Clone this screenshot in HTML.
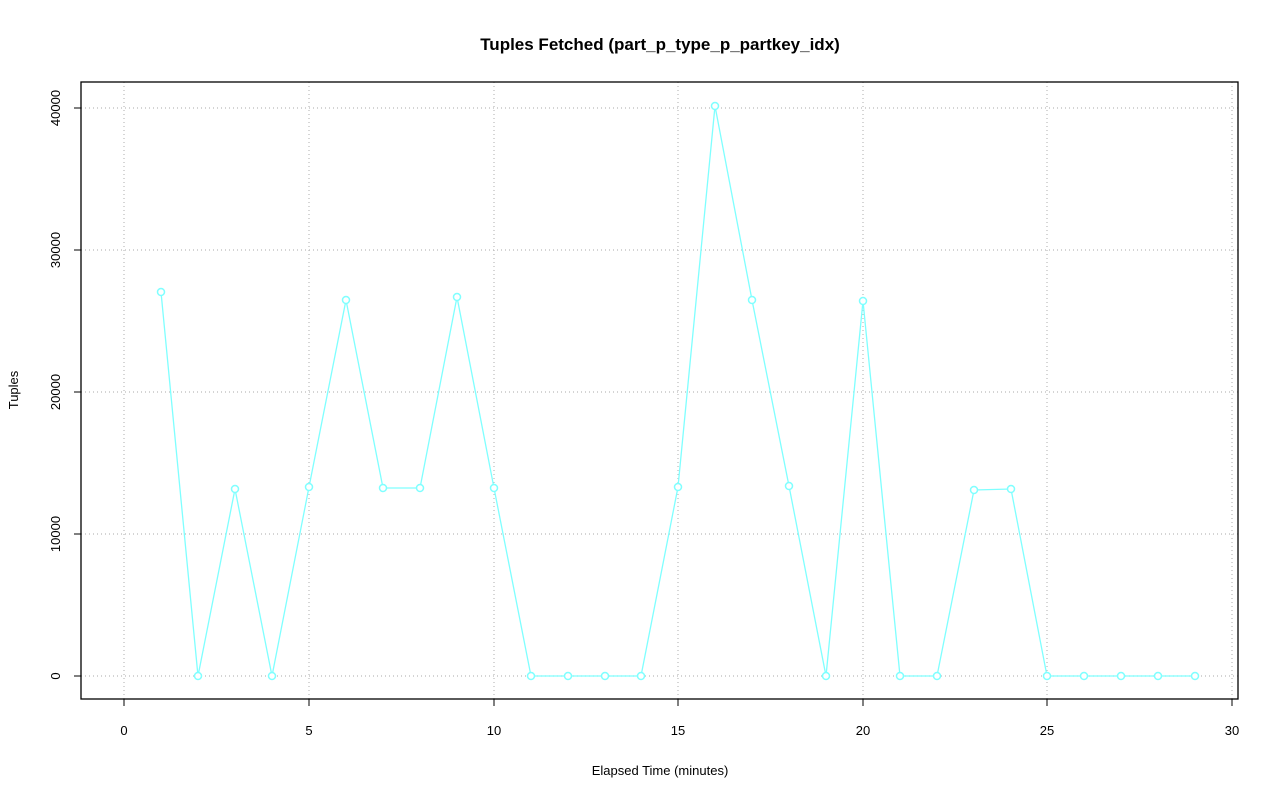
<!DOCTYPE html>
<html><head><meta charset="utf-8"><style>
html,body{margin:0;padding:0;background:#fff;}
svg{display:block;font-family:"Liberation Sans",sans-serif;}
</style></head><body>
<svg width="1280" height="801" viewBox="0 0 1280 801" xmlns="http://www.w3.org/2000/svg">
<rect width="1280" height="801" fill="#fff"/>
<text x="660" y="50" text-anchor="middle" font-size="17" font-weight="bold">Tuples Fetched (part_p_type_p_partkey_idx)</text>
<g stroke="#bbbbbb" stroke-dasharray="1,3" stroke-width="1.2">
<line x1="124" y1="82" x2="124" y2="699"/><line x1="309" y1="82" x2="309" y2="699"/>
<line x1="494" y1="82" x2="494" y2="699"/><line x1="678" y1="82" x2="678" y2="699"/>
<line x1="863" y1="82" x2="863" y2="699"/><line x1="1047" y1="82" x2="1047" y2="699"/>
<line x1="1232" y1="82" x2="1232" y2="699"/>
<line x1="81" y1="676" x2="1238" y2="676"/><line x1="81" y1="534" x2="1238" y2="534"/>
<line x1="81" y1="392" x2="1238" y2="392"/><line x1="81" y1="250" x2="1238" y2="250"/>
<line x1="81" y1="108" x2="1238" y2="108"/>
</g>
<rect x="81" y="82" width="1157" height="617" fill="none" stroke="#000" stroke-width="1.3"/>
<g stroke="#000" stroke-width="1">
<line x1="124" y1="699" x2="1232" y2="699"/>
<line x1="124" y1="699" x2="124" y2="706"/><line x1="309" y1="699" x2="309" y2="706"/>
<line x1="494" y1="699" x2="494" y2="706"/><line x1="678" y1="699" x2="678" y2="706"/>
<line x1="863" y1="699" x2="863" y2="706"/><line x1="1047" y1="699" x2="1047" y2="706"/>
<line x1="1232" y1="699" x2="1232" y2="706"/>
<line x1="81" y1="108" x2="81" y2="676"/>
<line x1="74" y1="676" x2="81" y2="676"/><line x1="74" y1="534" x2="81" y2="534"/>
<line x1="74" y1="392" x2="81" y2="392"/><line x1="74" y1="250" x2="81" y2="250"/>
<line x1="74" y1="108" x2="81" y2="108"/>
</g>
<g font-size="13" text-anchor="middle">
<text x="124" y="735">0</text><text x="309" y="735">5</text><text x="494" y="735">10</text>
<text x="678" y="735">15</text><text x="863" y="735">20</text><text x="1047" y="735">25</text>
<text x="1232" y="735">30</text>
<text transform="translate(60,676) rotate(-90)">0</text>
<text transform="translate(60,534) rotate(-90)">10000</text>
<text transform="translate(60,392) rotate(-90)">20000</text>
<text transform="translate(60,250) rotate(-90)">30000</text>
<text transform="translate(60,108) rotate(-90)">40000</text>
<text x="660" y="775">Elapsed Time (minutes)</text>
<text transform="translate(18,390) rotate(-90)">Tuples</text>
</g>
<polyline fill="none" stroke="#7fffff" stroke-width="1.3" points="161,292 198,676 235,489 272,676 309,487 346,300 383,488 420,488 457,297 494,488 531,676 568,676 605,676 641,676 678,487 715,106 752,300 789,486 826,676 863,301 900,676 937,676 974,490 1011,489 1047,676 1084,676 1121,676 1158,676 1195,676"/>
<g fill="#fff" stroke="#7fffff" stroke-width="1.5">
<circle cx="161" cy="292" r="3.5"/><circle cx="198" cy="676" r="3.5"/><circle cx="235" cy="489" r="3.5"/>
<circle cx="272" cy="676" r="3.5"/><circle cx="309" cy="487" r="3.5"/><circle cx="346" cy="300" r="3.5"/>
<circle cx="383" cy="488" r="3.5"/><circle cx="420" cy="488" r="3.5"/><circle cx="457" cy="297" r="3.5"/>
<circle cx="494" cy="488" r="3.5"/><circle cx="531" cy="676" r="3.5"/><circle cx="568" cy="676" r="3.5"/>
<circle cx="605" cy="676" r="3.5"/><circle cx="641" cy="676" r="3.5"/><circle cx="678" cy="487" r="3.5"/>
<circle cx="715" cy="106" r="3.5"/><circle cx="752" cy="300" r="3.5"/><circle cx="789" cy="486" r="3.5"/>
<circle cx="826" cy="676" r="3.5"/><circle cx="863" cy="301" r="3.5"/><circle cx="900" cy="676" r="3.5"/>
<circle cx="937" cy="676" r="3.5"/><circle cx="974" cy="490" r="3.5"/><circle cx="1011" cy="489" r="3.5"/>
<circle cx="1047" cy="676" r="3.5"/><circle cx="1084" cy="676" r="3.5"/><circle cx="1121" cy="676" r="3.5"/>
<circle cx="1158" cy="676" r="3.5"/><circle cx="1195" cy="676" r="3.5"/>
</g>
</svg>
</body></html>
